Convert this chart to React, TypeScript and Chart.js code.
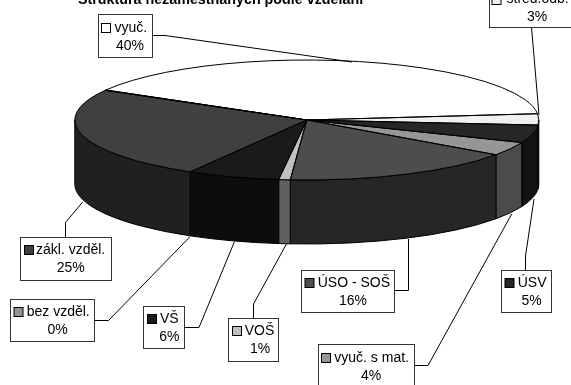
import React, { useEffect, useRef } from "react";
import { Chart, registerables } from "chart.js";

Chart.register(...registerables);

const titleText = "Struktura nezaměstnaných podle vzdělání";
const categories = ["vyuč.", "střed.odb.", "ÚSV", "vyuč. s mat.", "ÚSO - SOŠ", "VOŠ", "VŠ", "zákl. vzděl.", "bez vzděl."];
const shares = [40, 3, 4.8, 3.7, 16.3, 0.8, 6.45, 24.85, 0.1];
const topColors = ["#ffffff", "#f0f0f0", "#262626", "#969696", "#4d4d4d", "#c0c0c0", "#1a1a1a", "#404040", "#969696"];
const sideColors = ["#808080", "#787878", "#131313", "#4b4b4b", "#262626", "#606060", "#0d0d0d", "#202020", "#4b4b4b"];

// Geometry of the flattened pie
const CX = 306.8;
const CY = 120;
const RX = 232;
const RY = 60;
const DEPTH = 64;

// Label layout: box [x, y, w, h], key x, key y, text x, first baseline, percent centre, leader points
type Layout = { box: number[]; key: number[]; textX: number; base: number; pctX: number; leader: number[][] };
const layouts: Layout[] = [
  { box: [98, 14, 54, 43], key: [101, 23], textX: 114.5, base: 32, pctX: 130, leader: [[152, 35.5], [165, 35.5], [352, 62]] },
  { box: [489, -16, 100, 43], key: [491.5, -5], textX: 506.5, base: 2.5, pctX: 537, leader: [[531.5, 27], [539, 115]] },
  { box: [501, 270, 50, 42], key: [504.5, 278], textX: 517.7, base: 287.3, pctX: 531.7, leader: [[525.5, 270], [525.5, 256], [534, 199]] },
  { box: [318, 344, 96, 44], key: [321, 353], textX: 334.3, base: 362, pctX: 371, leader: [[414, 365.5], [428, 365.5], [511.7, 214]] },
  { box: [301, 270, 93, 42], key: [304.5, 278], textX: 317.7, base: 287.3, pctX: 353, leader: [[394, 290.5], [408.5, 290.5], [408.5, 239]] },
  { box: [228, 318, 50, 43], key: [232, 326], textX: 244.7, base: 335, pctX: 260, leader: [[253.5, 318], [253.5, 304], [287, 243]] },
  { box: [143, 306, 41, 42], key: [147, 314], textX: 160, base: 322.7, pctX: 169.3, leader: [[184, 327.5], [199, 327.5], [234.3, 242]] },
  { box: [20, 237, 91, 43], key: [24, 245], textX: 36, base: 254, pctX: 70.7, leader: [[65.5, 237], [65.5, 222.5], [82.7, 202]] },
  { box: [10, 299, 84, 42], key: [13.5, 307], textX: 26.7, base: 316, pctX: 57.7, leader: [[94, 320.5], [108.5, 320.5], [190, 236.7]] },
];

const FONT = "14px 'Liberation Sans', Arial, sans-serif";

const pie3d = {
  id: "pie3d",
  beforeDatasetsDraw(chart: any) {
    const ctx: CanvasRenderingContext2D = chart.ctx;
    const arcs = chart.getDatasetMeta(0).data;
    // Side walls of the front half
    ctx.save();
    ctx.lineWidth = 1;
    ctx.strokeStyle = "#000";
    arcs.forEach((arc: any, i: number) => {
      const a = Math.max(arc.startAngle, 0);
      const b = Math.min(arc.endAngle, Math.PI);
      if (a >= b) return;
      ctx.beginPath();
      ctx.ellipse(CX, CY, RX, RY, 0, a, b);
      ctx.ellipse(CX, CY + DEPTH, RX, RY, 0, b, a, true);
      ctx.closePath();
      ctx.fillStyle = sideColors[i];
      ctx.fill();
      ctx.stroke();
    });
    ctx.restore();
    // Flatten the pie that the library draws
    const first = arcs[0];
    const R = first.outerRadius;
    ctx.save();
    ctx.translate(CX, CY);
    ctx.scale(RX / R, RY / R);
    ctx.translate(-first.x, -first.y);
  },
  afterDatasetsDraw(chart: any) {
    const ctx: CanvasRenderingContext2D = chart.ctx;
    ctx.restore();
    const arcs = chart.getDatasetMeta(0).data;
    ctx.save();
    ctx.lineWidth = 1;
    ctx.strokeStyle = "#000";
    arcs.forEach((arc: any) => {
      ctx.beginPath();
      ctx.moveTo(CX, CY);
      ctx.ellipse(CX, CY, RX, RY, 0, arc.startAngle, arc.endAngle);
      ctx.closePath();
      ctx.stroke();
    });
    ctx.restore();
  },
  afterDraw(chart: any) {
    const ctx: CanvasRenderingContext2D = chart.ctx;
    ctx.save();
    ctx.textBaseline = "alphabetic";
    ctx.fillStyle = "#000";
    ctx.font = "bold 14.3px 'Liberation Sans', Arial, sans-serif";
    ctx.textAlign = "center";
    ctx.fillText(titleText, 220.5, 4);
    const values: number[] = chart.data.datasets[0].data;
    const total = values.reduce((s, v) => s + v, 0);
    ctx.font = FONT;
    categories.forEach((name, i) => {
      const l = layouts[i];
      ctx.lineWidth = 1;
      ctx.strokeStyle = "#000";
      ctx.beginPath();
      l.leader.forEach(([x, y], k) => (k ? ctx.lineTo(x, y) : ctx.moveTo(x, y)));
      ctx.stroke();
      const [x, y, w, h] = l.box;
      ctx.fillStyle = "#fff";
      ctx.fillRect(x + 0.5, y + 0.5, w, h);
      ctx.strokeStyle = "#333";
      ctx.strokeRect(x + 0.5, y + 0.5, w, h);
      ctx.fillStyle = topColors[i];
      ctx.fillRect(l.key[0] + 0.5, l.key[1] + 0.5, 9, 9);
      ctx.strokeStyle = "#000";
      ctx.strokeRect(l.key[0] + 0.5, l.key[1] + 0.5, 9, 9);
      ctx.fillStyle = "#000";
      ctx.textAlign = "left";
      ctx.fillText(name, l.textX, l.base);
      ctx.textAlign = "center";
      ctx.fillText(Math.round((values[i] / total) * 100) + "%", l.pctX, l.base + 18);
    });
    ctx.restore();
  },
};

export default function App() {
  const ref = useRef<HTMLCanvasElement>(null);
  useEffect(() => {
    const chart = new Chart(ref.current!, {
      type: "pie",
      data: {
        labels: categories,
        datasets: [{ data: shares, backgroundColor: topColors, borderWidth: 0, clip: false } as any],
      },
      options: {
        responsive: false,
        animation: false,
        rotation: -60,
        layout: { padding: 0 },
        plugins: { legend: { display: false }, tooltip: { enabled: false }, title: { display: false } },
      },
      plugins: [pie3d],
    } as any);
    return () => chart.destroy();
  }, []);
  return (
    <div style={{ position: "fixed", left: 0, top: 0, width: 571, height: 385, background: "#fff" }}>
      <canvas ref={ref} width={571} height={385} style={{ display: "block" }} />
    </div>
  );
}
